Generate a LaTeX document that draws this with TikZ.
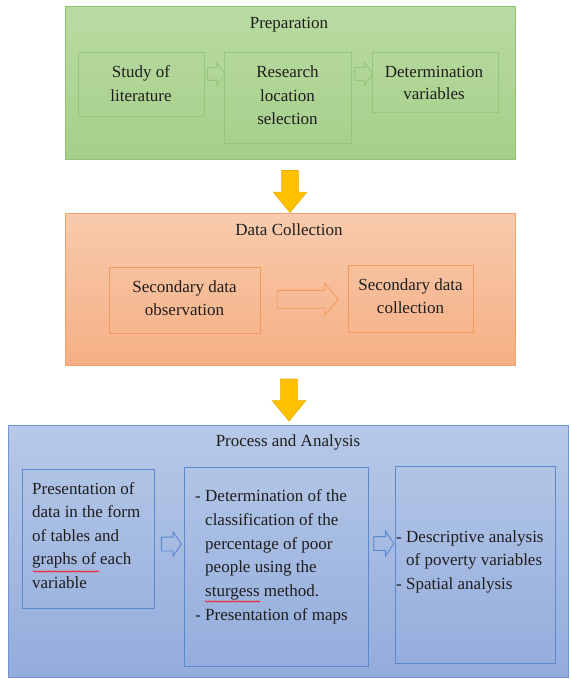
\documentclass[tikz,border=0pt]{standalone}
\usepackage{fontspec}
\setmainfont{Liberation Serif}
\usetikzlibrary{shapes.arrows,calc,decorations.pathmorphing}
\definecolor{gTop}{HTML}{B9DBA2}
\definecolor{gBot}{HTML}{A6CF8A}
\definecolor{gLine}{HTML}{8EC46E}
\definecolor{gIn}{HTML}{94C878}
\definecolor{oTop}{HTML}{F8CBAD}
\definecolor{oBot}{HTML}{F5AF84}
\definecolor{oLine}{HTML}{F3A26A}
\definecolor{oIn}{HTML}{F09C60}
\definecolor{bTop}{HTML}{B7C9E8}
\definecolor{bBot}{HTML}{93ACDC}
\definecolor{bLine}{HTML}{7096D2}
\definecolor{bIn}{HTML}{5C88CE}
\definecolor{yFill}{HTML}{FFC000}
\definecolor{yLine}{HTML}{E8AE00}
\definecolor{txtc}{HTML}{1E1E1E}
\tikzset{
  rbox/.style={rectangle, inner sep=0pt, outer sep=0pt, line width=1pt, anchor=north west},
  ttl/.style={inner sep=0pt, anchor=base, text=txtc, font=\fontsize{17}{24}\selectfont},
  body/.style={inner sep=0pt, text=txtc, font=\fontsize{17}{#1}\selectfont},
  harrow/.style={single arrow, draw=#1, line width=0.9pt, single arrow head indent=0pt},
  yarrow/.style={single arrow, shape border rotate=270, fill=yFill, draw=yLine, line width=0.6pt,
    inner sep=8pt, minimum height=42pt, single arrow head extend=8.5pt, single arrow tip angle=79},
  squig/.style={draw=red, line width=0.6pt, decorate, decoration={snake, amplitude=0.7pt, segment length=3pt}}
}
\begin{document}
\begin{tikzpicture}[x=1pt,y=-1pt]
\useasboundingbox (0,0) rectangle (570,679);

% Preparation
\node[rbox, draw=gLine, top color=gTop, bottom color=gBot, minimum width=450pt, minimum height=153pt] (prep) at (65,7) {};
\node[ttl] (prept) at (289,29) {Preparation};
\node[rbox, draw=gIn, minimum width=126pt, minimum height=64pt] (study) at (78,53) {};
\node[rbox, draw=gIn, minimum width=127pt, minimum height=91pt] (research) at (224,53) {};
\node[rbox, draw=gIn, minimum width=126pt, minimum height=60pt] (determ) at (372,53) {};
% anchor=base of a multi-line node is the baseline of its last line
\node[body=24pt, anchor=base, align=center] (studyt) at (141,102) {Study of\\literature};
\node[body=23.5pt, anchor=base, align=center] (researcht) at (287.5,125) {Research\\location\\selection};
\node[body=22pt, anchor=base, align=center] (determt) at (434,100) {Determination\\variables};
\node[harrow=gIn, inner sep=6pt, minimum height=17pt, single arrow head extend=5pt, single arrow tip angle=108]
  (a1) at ($(study.north east)!0.5!(research.north west)+(0,21)$) {};
\node[harrow=gIn, inner sep=6pt, minimum height=18pt, single arrow head extend=5pt, single arrow tip angle=108]
  (a2) at ($(research.north east)!0.5!(determ.north west)+(0,21)$) {};

% Data collection
\node[rbox, draw=oLine, top color=oTop, bottom color=oBot, minimum width=450pt, minimum height=152pt] (coll) at (65,213) {};
\node[ttl] (collt) at (289,235) {Data Collection};
\node[rbox, draw=oIn, minimum width=151pt, minimum height=66pt] (obs) at (109,267) {};
\node[rbox, draw=oIn, minimum width=125pt, minimum height=67pt] (sdc) at (348,265) {};
\node[body=23pt, anchor=base, align=center] (obst) at (184.5,315) {Secondary data\\observation};
\node[body=23pt, anchor=base, align=center] (sdct) at (410.5,313) {Secondary data\\collection};
\node[harrow=oIn, inner sep=8.5pt, minimum height=61pt, single arrow head extend=7pt, single arrow tip angle=100]
  (a3) at ($(obs.east)!0.5!(sdc.west)$) {};

% Yellow arrows
\node[yarrow] (y1) at ($(prep.south)!0.5!(coll.north)$) {};

% Process and analysis
\node[rbox, draw=bLine, top color=bTop, bottom color=bBot, minimum width=560pt, minimum height=252pt] (proc) at (8,425) {};
\node[ttl] (proct) at (288,446) {Process and Analysis};
\node[yarrow] (y2) at ($(coll.south)!0.5!(proc.north)$) {};
\node[rbox, draw=bIn, minimum width=132pt, minimum height=139pt] (pres) at (22,469) {};
\node[rbox, draw=bIn, minimum width=184pt, minimum height=199pt] (cls) at (184,467) {};
\node[rbox, draw=bIn, minimum width=160pt, minimum height=197pt] (desc) at (395,466) {};
\node[body=23.5pt, anchor=base west, align=left] (prest) at (32,588)
  {Presentation of\\data in the form\\of tables and\\graphs of each\\variable};
\node[body=23.8pt, anchor=base west, align=left] (clst) at (195,620.5)
  {\makebox[10pt][l]{-}Determination of the\\\hspace*{10pt}classification of the\\\hspace*{10pt}percentage of poor\\\hspace*{10pt}people using the\\\hspace*{10pt}sturgess method.\\\makebox[10pt][l]{-}Presentation of maps};
\node[body=23.5pt, anchor=base west, align=left] (desct) at (396,589)
  {\makebox[10pt][l]{-}Descriptive analysis\\\hspace*{10pt}of poverty variables\\\makebox[10pt][l]{-}Spatial analysis};
\node[harrow=bIn, inner sep=6.5pt, minimum height=20pt, single arrow head extend=5.5pt, single arrow tip angle=113]
  (a4) at ($(pres.north east)!0.5!(cls.north west)+(0,76)$) {};
\node[harrow=bIn, inner sep=6.5pt, minimum height=20pt, single arrow head extend=5.5pt, single arrow tip angle=113]
  (a5) at ($(cls.north east)!0.5!(desc.north west)+(0,77)$) {};

% spell-check underlines
\draw[squig] (33,571.5) -- (99,571.5);
\draw[squig] (205,601.5) -- (260,601.5);
\end{tikzpicture}
\end{document}
